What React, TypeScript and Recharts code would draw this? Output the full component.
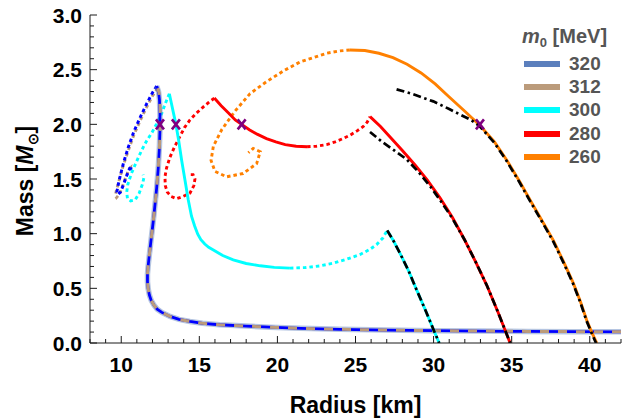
import React from 'react';
import { ComposedChart, Line, Scatter, XAxis, YAxis, Label } from 'recharts';

type P = [number, number];

// ---------- axis ticks ----------
const RADIUS_TICKS = [8, 9, 10, 11, 12, 13, 14, 15, 16, 17, 18, 19, 20, 21, 22, 23, 24, 25, 26, 27, 28, 29, 30, 31, 32, 33, 34, 35, 36, 37, 38, 39, 40, 41, 42];
const MASS_TICKS = Array.from({ length: 31 }, (_, i) => i / 10);

// ---------- legend ----------
const MODEL_LABELS = ['320', '312', '300', '280', '260'];
const LEGEND_TITLE_UNIT = '[MeV]';

// ---------- series (radius km, mass Msun) ----------
const stable320: P[] = [[42, 0.102], [39, 0.104], [36, 0.106], [33, 0.109], [30, 0.113], [27, 0.118], [24, 0.125], [21.5, 0.134], [19.5, 0.145], [18, 0.155], [16.3, 0.167], [15.2, 0.18], [14.4, 0.197], [13.7, 0.216], [13.12, 0.243], [12.6, 0.28], [12.3, 0.31], [12.1, 0.345], [11.92, 0.39], [11.8, 0.44], [11.72, 0.5], [11.68, 0.56], [11.68, 0.63], [11.72, 0.7], [11.78, 0.78], [11.85, 0.87], [11.94, 0.98], [12.04, 1.1], [12.15, 1.25], [12.27, 1.42], [12.37, 1.6], [12.44, 1.78], [12.48, 1.95], [12.48, 2.1], [12.45, 2.22], [12.39, 2.3], [12.27, 2.35]];
const stable312: P[] = [[42, 0.102], [39, 0.104], [36, 0.106], [33, 0.109], [30, 0.113], [27, 0.118], [24, 0.125], [21.5, 0.134], [19.5, 0.145], [18, 0.155], [16.3, 0.167], [15.2, 0.18], [14.4, 0.197], [13.7, 0.216], [13.12, 0.243], [12.6, 0.28], [12.3, 0.31], [12.1, 0.345], [11.92, 0.39], [11.8, 0.44], [11.72, 0.5], [11.68, 0.56], [11.68, 0.63], [11.72, 0.7], [11.78, 0.78], [11.85, 0.87], [11.94, 0.98], [12.04, 1.1], [12.15, 1.25], [12.27, 1.42], [12.37, 1.6], [12.44, 1.78], [12.49, 1.95], [12.5, 2.1], [12.47, 2.22], [12.42, 2.29], [12.33, 2.33]];
const unstable320: P[] = [[12.27, 2.35], [12.0, 2.29], [11.6, 2.18], [11.2, 2.06], [10.8, 1.93], [10.45, 1.79], [10.15, 1.65], [9.92, 1.52], [9.78, 1.43], [9.72, 1.38], [9.8, 1.36], [9.95, 1.38], [10.15, 1.45], [10.35, 1.53], [10.55, 1.6], [10.65, 1.62], [10.6, 1.58]];
const unstable312: P[] = [[12.33, 2.33], [12.0, 2.26], [11.6, 2.15], [11.2, 2.03], [10.8, 1.9], [10.45, 1.76], [10.1, 1.61], [9.85, 1.48], [9.68, 1.39], [9.62, 1.35], [9.7, 1.33], [9.88, 1.36], [10.1, 1.44], [10.3, 1.52], [10.5, 1.59], [10.58, 1.6], [10.52, 1.56]];

const unstable300a: P[] = [[13.08, 2.28], [12.85, 2.2], [12.59, 2.1], [12.25, 2.0], [11.95, 1.92], [11.63, 1.85], [11.3, 1.76], [10.95, 1.65], [10.65, 1.55], [10.42, 1.45], [10.35, 1.38], [10.4, 1.32], [10.6, 1.3], [10.9, 1.31], [11.15, 1.37], [11.35, 1.45], [11.45, 1.51], [11.4, 1.54]];
const stable300a: P[] = [[13.08, 2.28], [13.2, 2.2], [13.35, 2.1], [13.5, 2.0], [13.68, 1.85], [13.87, 1.67], [14.08, 1.49], [14.29, 1.31], [14.5, 1.16], [14.7, 1.07], [14.9, 0.995], [15.1, 0.945], [15.35, 0.905], [15.6, 0.875], [15.9, 0.85], [16.5, 0.8], [17.17, 0.76], [18.0, 0.727], [18.9, 0.706], [19.8, 0.692], [20.8, 0.685]];
const unstable300b: P[] = [[20.8, 0.685], [21.8, 0.69], [22.7, 0.705], [23.58, 0.73], [24.4, 0.765], [25.3, 0.81], [25.9, 0.855], [26.35, 0.9], [26.75, 0.96], [27.03, 1.03]];
const stable300b: P[] = [[27.03, 1.03], [27.45, 0.93], [27.85, 0.82], [28.4, 0.66], [28.9, 0.49], [29.45, 0.31], [30.0, 0.12], [30.36, 0.0]];
const approx300: P[] = [[27.03, 1.03], [27.45, 0.93], [27.85, 0.82], [28.4, 0.66], [28.9, 0.49], [29.45, 0.31], [30.0, 0.12], [30.36, 0.0]];

const unstable280a: P[] = [[15.96, 2.24], [15.6, 2.2], [15.26, 2.16], [14.8, 2.1], [14.4, 2.04], [14.05, 1.97], [13.76, 1.89], [13.4, 1.79], [13.12, 1.7], [12.9, 1.6], [12.8, 1.52], [12.82, 1.44], [12.95, 1.38], [13.2, 1.34], [13.55, 1.32], [13.95, 1.34], [14.4, 1.37], [14.65, 1.44], [14.72, 1.5], [14.6, 1.54], [14.45, 1.54]];
const stable280a: P[] = [[15.96, 2.24], [16.4, 2.17], [16.9, 2.1], [17.3, 2.04], [17.71, 2.0], [18.2, 1.95], [18.7, 1.91], [19.3, 1.87], [19.9, 1.84], [20.5, 1.815], [21.2, 1.8], [21.9, 1.795]];
const unstable280b: P[] = [[21.9, 1.795], [22.5, 1.8], [23.15, 1.815], [23.7, 1.84], [24.2, 1.87], [24.64, 1.9], [25.1, 1.94], [25.5, 1.98], [25.75, 2.02], [25.93, 2.07]];
const stable280b: P[] = [[25.93, 2.07], [26.6, 1.98], [27.3, 1.87], [28.0, 1.76], [28.8, 1.63], [29.6, 1.49], [30.4, 1.33], [31.2, 1.15], [32.0, 0.94], [32.7, 0.74], [33.4, 0.53], [34.1, 0.29], [34.6, 0.11], [34.9, 0.0]];
const approx280: P[] = [[25.93, 1.93], [26.7, 1.84], [27.5, 1.76], [28.27, 1.68], [29.0, 1.57], [29.8, 1.43], [30.5, 1.29], [31.2, 1.14], [32.0, 0.94], [32.7, 0.74], [33.4, 0.53], [34.1, 0.29], [34.6, 0.11], [34.9, 0.0]];

const unstable260: P[] = [[24.64, 2.68], [23.9, 2.67], [23.15, 2.65], [22.3, 2.61], [21.44, 2.57], [20.4, 2.49], [19.3, 2.39], [18.24, 2.28], [17.28, 2.12], [16.43, 1.95], [15.9, 1.8], [15.75, 1.67], [16.0, 1.57], [16.75, 1.52], [17.8, 1.55], [18.67, 1.64], [18.9, 1.75], [18.45, 1.78], [18.14, 1.74]];
const stable260: P[] = [[24.64, 2.68], [25.6, 2.675], [26.5, 2.65], [27.4, 2.61], [28.3, 2.55], [29.2, 2.47], [30.1, 2.37], [31.0, 2.25], [32.0, 2.12], [32.97, 1.99], [33.9, 1.84], [34.7, 1.67], [35.5, 1.48], [36.17, 1.31], [36.9, 1.13], [37.66, 0.94], [38.3, 0.75], [38.94, 0.55], [39.4, 0.38], [39.8, 0.21], [40.15, 0.09], [40.45, 0.0]];
const approx260: P[] = [[27.63, 2.32], [28.6, 2.28], [29.98, 2.21], [31.0, 2.14], [31.69, 2.09], [32.4, 2.04], [32.97, 1.98], [33.9, 1.83], [34.7, 1.66], [35.5, 1.47], [36.17, 1.3], [36.9, 1.12], [37.66, 0.93], [38.3, 0.74], [38.94, 0.54], [39.4, 0.37], [39.8, 0.2], [40.15, 0.08], [40.4, 0.0]];

const twoSolarMass: P[] = [[12.48, 2.0], [13.5, 2.0], [17.71, 2.0], [32.97, 2.0]];

// ---------- styles ----------
const FONT = '"Liberation Sans", Arial, Helvetica, sans-serif';
const FRAME = '#1a1a1a';
const LEGEND_COLORS = ['#5b7fbd', '#bb9b7b', '#00ffff', '#ff0000', '#ff8000'];
const BLUE = '#0000ff';
const TAN = '#bc9b7a';
const CYAN = '#00ffff';
const RED = '#ff0000';
const ORANGE = '#ff8000';
const PURPLE = '#800080';
const DOT = '3.5 3';
const DASHDOT = '8 3.5 2.5 3.5';
const W = 2.9;

const toPts = (a: P[]) => a.map(([r, m]) => ({ r, m }));

const BottomTick = (props: any) => {
  const { x, y, payload } = props;
  const v = payload.value as number;
  const major = v % 5 === 0;
  return (
    <g>
      <line x1={x} x2={x} y1={y} y2={y - (major ? 7 : 4)} stroke={FRAME} strokeWidth={1} />
      {major && (
        <text x={x} y={y + 29} textAnchor="middle" fontFamily={FONT} fontWeight="bold" fontSize={21} fill="#000">
          {v}
        </text>
      )}
    </g>
  );
};
const TopTick = (props: any) => {
  const { x, y, payload } = props;
  const v = payload.value as number;
  const major = v % 5 === 0;
  return <line x1={x} x2={x} y1={y} y2={y + (major ? 7 : 4)} stroke={FRAME} strokeWidth={1} />;
};
const LeftTick = (props: any) => {
  const { x, y, payload } = props;
  const v = payload.value as number;
  const major = Math.round(v * 10) % 5 === 0;
  return (
    <g>
      <line x1={x} x2={x + (major ? 7 : 4)} y1={y} y2={y} stroke={FRAME} strokeWidth={1} />
      {major && (
        <text x={x - 8} y={y + 7.5} textAnchor="end" fontFamily={FONT} fontWeight="bold" fontSize={21} fill="#000">
          {v.toFixed(1)}
        </text>
      )}
    </g>
  );
};
const RightTick = (props: any) => {
  const { x, y, payload } = props;
  const v = payload.value as number;
  const major = Math.round(v * 10) % 5 === 0;
  return <line x1={x} x2={x - (major ? 7 : 4)} y1={y} y2={y} stroke={FRAME} strokeWidth={1} />;
};

const XTitle = (props: any) => {
  const vb = props.viewBox || {};
  const cx = vb.x + vb.width / 2;
  return (
    <text x={cx} y={413} textAnchor="middle" fontFamily={FONT} fontWeight="bold" fontSize={23} fill="#000">
      Radius [km]
    </text>
  );
};
const YTitle = (props: any) => {
  const vb = props.viewBox || {};
  const cy = vb.y + vb.height / 2 + 2;
  return (
    <text transform={`translate(33, ${cy}) rotate(-90)`} x={0} y={0} textAnchor="middle" fontFamily={FONT} fontWeight="bold" fontSize={23} fill="#000">
      Mass [<tspan fontStyle="italic">M</tspan>
      <tspan fontSize={14} dy={5}>⊙</tspan>
      <tspan dy={-5}>]</tspan>
    </text>
  );
};

const XMark = (props: any) => {
  const { cx, cy } = props;
  if (cx == null || cy == null) return null;
  return (
    <path
      d={`M${cx - 4},${cy - 5} L${cx + 4},${cy + 5} M${cx + 4},${cy - 5} L${cx - 4},${cy + 5}`}
      stroke={PURPLE}
      strokeWidth={2.6}
      fill="none"
    />
  );
};

const lineProps = {
  dataKey: 'm',
  dot: false,
  activeDot: false,
  isAnimationActive: false,
  type: 'linear' as const,
  legendType: 'none' as const,
};

export default function App() {
  return (
    <div style={{ position: 'absolute', left: 0, top: 0, width: 628, height: 420, background: '#fff' }}>
      <ComposedChart width={628} height={420} margin={{ top: 15, right: 7, bottom: 47, left: 10 }}>
        <XAxis
          dataKey="r"
          type="number"
          domain={[8, 42]}
          allowDataOverflow
          ticks={RADIUS_TICKS}
          interval={0}
          tick={<BottomTick />}
          tickLine={false}
          tickSize={0}
          tickMargin={0}
          axisLine={{ stroke: FRAME, strokeWidth: 1 }}
          height={30}
        >
          <Label content={<XTitle />} />
        </XAxis>
        <XAxis
          xAxisId="top"
          orientation="top"
          dataKey="r"
          type="number"
          domain={[8, 42]}
          allowDataOverflow
          ticks={RADIUS_TICKS}
          interval={0}
          tick={<TopTick />}
          tickLine={false}
          tickSize={0}
          tickMargin={0}
          axisLine={{ stroke: FRAME, strokeWidth: 1 }}
          height={0}
        />
        <YAxis
          type="number"
          domain={[0, 3]}
          allowDataOverflow
          ticks={MASS_TICKS}
          interval={0}
          tick={<LeftTick />}
          tickLine={false}
          tickSize={0}
          tickMargin={0}
          axisLine={{ stroke: FRAME, strokeWidth: 1 }}
          width={80}
        >
          <Label content={<YTitle />} />
        </YAxis>
        <YAxis
          yAxisId="right"
          orientation="right"
          type="number"
          domain={[0, 3]}
          allowDataOverflow
          ticks={MASS_TICKS}
          interval={0}
          tick={<RightTick />}
          tickLine={false}
          tickSize={0}
          tickMargin={0}
          axisLine={{ stroke: FRAME, strokeWidth: 1 }}
          width={0}
        />

        {/* unstable (dotted) branches */}
        <Line {...lineProps} data={toPts(unstable312)} stroke={TAN} strokeWidth={W} strokeDasharray={DOT} />
        <Line {...lineProps} data={toPts(unstable320)} stroke={BLUE} strokeWidth={W} strokeDasharray={DOT} />
        <Line {...lineProps} data={toPts(unstable300a)} stroke={CYAN} strokeWidth={W} strokeDasharray={DOT} />
        <Line {...lineProps} data={toPts(unstable300b)} stroke={CYAN} strokeWidth={W} strokeDasharray={DOT} />
        <Line {...lineProps} data={toPts(unstable280a)} stroke={RED} strokeWidth={W} strokeDasharray={DOT} />
        <Line {...lineProps} data={toPts(unstable280b)} stroke={RED} strokeWidth={W} strokeDasharray={DOT} />
        <Line {...lineProps} data={toPts(unstable260)} stroke={ORANGE} strokeWidth={W} strokeDasharray={DOT} />

        {/* stable branches */}
        <Line {...lineProps} data={toPts(stable320)} stroke={LEGEND_COLORS[0]} strokeOpacity={0.45} strokeWidth={5.5} />
        <Line {...lineProps} data={toPts(stable320)} stroke={BLUE} strokeWidth={2.8} />
        <Line {...lineProps} data={toPts(stable312)} stroke={TAN} strokeWidth={3} strokeDasharray="9 9" />
        <Line {...lineProps} data={toPts(stable300a)} stroke={CYAN} strokeWidth={W} />
        <Line {...lineProps} data={toPts(stable300b)} stroke={CYAN} strokeWidth={W} />
        <Line {...lineProps} data={toPts(stable280a)} stroke={RED} strokeWidth={W} />
        <Line {...lineProps} data={toPts(stable280b)} stroke={RED} strokeWidth={W} />
        <Line {...lineProps} data={toPts(stable260)} stroke={ORANGE} strokeWidth={W} />

        {/* approximations (black dash-dot) */}
        <Line {...lineProps} data={toPts(approx300)} stroke="#000" strokeWidth={2.7} strokeDasharray={DASHDOT} />
        <Line {...lineProps} data={toPts(approx280)} stroke="#000" strokeWidth={2.7} strokeDasharray={DASHDOT} />
        <Line {...lineProps} data={toPts(approx260)} stroke="#000" strokeWidth={2.7} strokeDasharray={DASHDOT} />

        <Scatter data={toPts(twoSolarMass)} dataKey="m" isAnimationActive={false} shape={<XMark />} legendType="none" />
      </ComposedChart>

      <div
        style={{
          position: 'absolute',
          left: 522,
          top: 24,
          fontFamily: FONT,
          fontWeight: 'bold',
          fontSize: 20,
          lineHeight: '24px',
          color: '#555',
          whiteSpace: 'nowrap',
        }}
      >
        <i>m</i>
        <span style={{ fontSize: 13, position: 'relative', top: 4 }}>0</span> {LEGEND_TITLE_UNIT}
      </div>
      {MODEL_LABELS.map((lab, i) => (
        <div
          key={lab}
          style={{
            position: 'absolute',
            left: 524,
            top: 64 + i * 23.2 - 12,
            height: 24,
            display: 'flex',
            alignItems: 'center',
            fontFamily: FONT,
            fontWeight: 'bold',
            fontSize: 19,
            color: '#555',
            whiteSpace: 'nowrap',
          }}
        >
          <span style={{ display: 'inline-block', width: 36, height: 6, background: LEGEND_COLORS[i] }} />
          <span style={{ marginLeft: 9 }}>{lab}</span>
        </div>
      ))}
    </div>
  );
}
